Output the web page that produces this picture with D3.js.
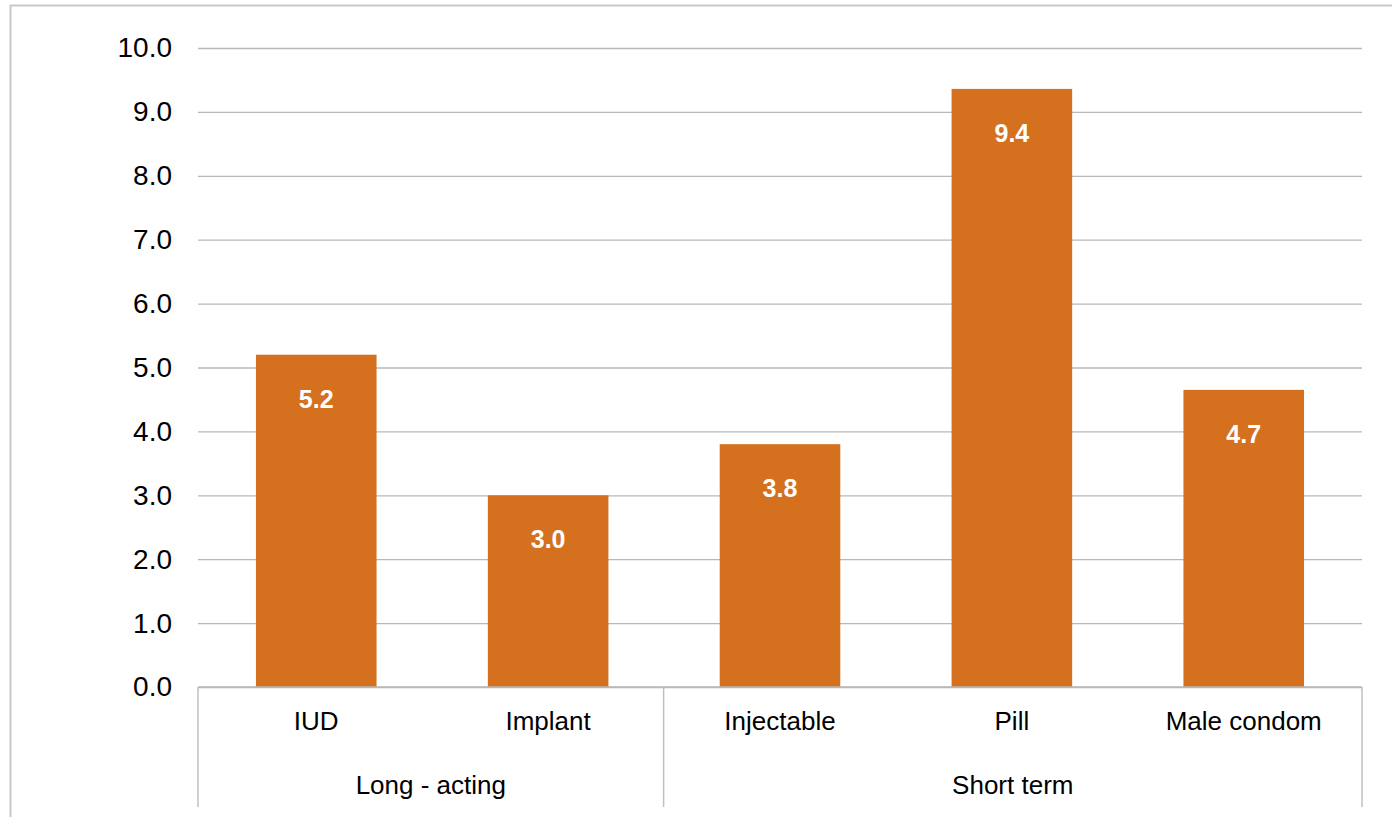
<!DOCTYPE html>
<html>
<head>
<meta charset="utf-8">
<script src="https://cdn.jsdelivr.net/npm/d3@7"></script>
<style>
  body { margin: 0; background: #fff; }
  text { font-family: "Liberation Sans", Arial, sans-serif; }
</style>
</head>
<body>
<script>
// data
const methods = ['IUD', 'Implant', 'Injectable', 'Pill', 'Male condom'];
const groups = ['Long - acting', 'Long - acting', 'Short term', 'Short term', 'Short term'];
const values = [5.2, 3.0, 3.8, 9.36, 4.65];
const labels = ['5.2', '3.0', '3.8', '9.4', '4.7'];
const yTicks = [0, 1, 2, 3, 4, 5, 6, 7, 8, 9, 10];

// constants
const width = 1392;
const height = 817;
const margin = { top: 48, bottom: 130, left: 198, right: 30 };

const svg = d3.select('body').append('svg')
  .attr('width', width).attr('height', height);

// outer frame
svg.append('path')
  .attr('d', `M10.5,${height} V5.5 H${width}`)
  .attr('fill', 'none').attr('stroke', '#c8c8c8').attr('stroke-width', 2);

const xScale = d3.scaleBand()
  .domain(methods)
  .range([margin.left, width - margin.right])
  .paddingInner(0.48).paddingOuter(0.25);

const yScale = d3.scaleLinear()
  .domain([0, 10])
  .range([height - margin.bottom, margin.top]);

// y axis with gridlines
const yAxis = svg.append('g').attr('class', 'yAxis')
  .attr('transform', `translate(${margin.left}, 0)`)
  .call(d3.axisLeft(yScale).tickValues(yTicks)
    .tickFormat(d3.format('.1f'))
    .tickSize(-(width - margin.right - margin.left)).tickPadding(26));
yAxis.select('.domain').remove();
yAxis.selectAll('line').attr('stroke', '#b8b8b8').attr('stroke-width', 1.3);
yAxis.selectAll('text').attr('font-size', 28).attr('fill', '#000');

// bars
svg.append('g').selectAll('rect').data(methods).enter().append('rect')
  .attr('x', (d) => xScale(d))
  .attr('width', xScale.bandwidth())
  .attr('y', (d, i) => yScale(values[i]))
  .attr('height', (d, i) => yScale(0) - yScale(values[i]))
  .attr('fill', '#d4701e');

// bar labels
svg.append('g').selectAll('text').data(methods).enter().append('text')
  .attr('x', (d) => xScale(d) + xScale.bandwidth() / 2)
  .attr('y', (d, i) => yScale(values[i]) + 53)
  .attr('text-anchor', 'middle')
  .attr('font-size', 25).attr('font-weight', 'bold').attr('fill', '#fff')
  .text((d, i) => labels[i]);

// x axis baseline
const y0 = yScale(0);
const x0 = margin.left;
const x1 = width - margin.right;
const axisG = svg.append('g').attr('class', 'xAxis');
axisG.append('line')
  .attr('x1', x0).attr('x2', x1).attr('y1', y0).attr('y2', y0)
  .attr('stroke', '#b8b8b8').attr('stroke-width', 1.5);

// category labels
axisG.selectAll('text.cat').data(methods).enter().append('text')
  .attr('class', 'cat')
  .attr('x', (d) => xScale(d) + xScale.bandwidth() / 2)
  .attr('y', y0 + 43)
  .attr('text-anchor', 'middle')
  .attr('font-size', 26).attr('fill', '#000')
  .text((d) => d);

// group labels and dividers
const groupNames = Array.from(new Set(groups));
const groupSpans = groupNames.map((g) => {
  const idx = methods.filter((m, i) => groups[i] === g);
  return { name: g, first: idx[0], last: idx[idx.length - 1] };
});
const edge = (m, side) => {
  const i = methods.indexOf(m);
  return side === 'left' ? x0 + (x1 - x0) * i / methods.length : x0 + (x1 - x0) * (i + 1) / methods.length;
};
const dividers = [x0].concat(groupSpans.map((g) => edge(g.last, 'right')));
axisG.selectAll('line.div').data(dividers).enter().append('line')
  .attr('class', 'div')
  .attr('x1', (d) => d).attr('x2', (d) => d)
  .attr('y1', y0).attr('y2', height - 10)
  .attr('stroke', '#c0c0c0').attr('stroke-width', 1.5);

axisG.selectAll('text.grp').data(groupSpans).enter().append('text')
  .attr('class', 'grp')
  .attr('x', (d) => (edge(d.first, 'left') + edge(d.last, 'right')) / 2)
  .attr('y', y0 + 107)
  .attr('text-anchor', 'middle')
  .attr('font-size', 26).attr('fill', '#000')
  .text((d) => d.name);
</script>
</body>
</html>
